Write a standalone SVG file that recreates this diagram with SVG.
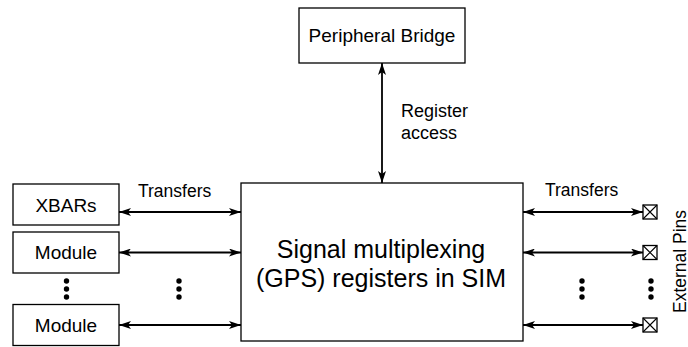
<svg xmlns="http://www.w3.org/2000/svg" width="688" height="347" viewBox="0 0 688 347">
<style>
  .box { fill: #fff; stroke: #000; stroke-width: 1.3; }
  .lbl { font-family: "Liberation Sans", Arial, sans-serif; fill: #000; }
  .node { font-size: 19px; text-anchor: middle; }
  .small { font-size: 17.5px; }
  .big { font-size: 25px; text-anchor: middle; }
  .conn { stroke: #000; stroke-width: 1.8; fill: none; marker-start: url(#arr); marker-end: url(#arr); }
  .pin { fill: #fff; stroke: #000; stroke-width: 1.3; }
</style>
<defs>
  <marker id="arr" viewBox="0 0 12 8" refX="12" refY="4" markerWidth="12" markerHeight="8" markerUnits="userSpaceOnUse" orient="auto-start-reverse">
    <path d="M0,0 L12,4 L0,8 L3,4 z" fill="#000"/>
  </marker>
  <g id="dots">
    <circle cx="0" cy="0" r="2.7" fill="#000"/>
    <circle cx="0" cy="8" r="2.7" fill="#000"/>
    <circle cx="0" cy="16" r="2.7" fill="#000"/>
  </g>
  <g id="pinshape">
    <rect class="pin" x="0" y="0" width="14" height="14"/>
    <path d="M0,0 L14,14 M14,0 L0,14" stroke="#000" stroke-width="1.1"/>
  </g>
</defs>
<rect width="688" height="347" fill="#fff"/>

<g id="peripheral-bridge">
  <rect class="box" x="299" y="8" width="166" height="55"/>
  <text class="lbl node" x="382" y="42">Peripheral Bridge</text>
</g>

<g id="sim">
  <rect class="box" x="241" y="183" width="282" height="158"/>
  <text class="lbl big" x="381" y="258">Signal multiplexing</text>
  <text class="lbl big" x="381" y="287">(GPS) registers in SIM</text>
</g>

<g id="xbars">
  <rect class="box" x="13" y="184" width="106" height="41"/>
  <text class="lbl node" x="66" y="211.5">XBARs</text>
</g>
<g id="module1">
  <rect class="box" x="13" y="232" width="106" height="41"/>
  <text class="lbl node" x="66" y="258.5">Module</text>
</g>
<g id="module2">
  <rect class="box" x="13" y="304.5" width="106" height="41"/>
  <text class="lbl node" x="66" y="332">Module</text>
</g>

<g id="pins">
  <use href="#pinshape" x="643" y="205"/>
  <use href="#pinshape" x="643" y="245.5"/>
  <use href="#pinshape" x="643" y="318"/>
  <text class="lbl small" text-anchor="middle" transform="translate(685.5,261.5) rotate(-90)">External Pins</text>
</g>

<g id="connectors">
  <line class="conn" x1="382" y1="63" x2="382" y2="183"/>
  <line class="conn" x1="119" y1="212" x2="241" y2="212"/>
  <line class="conn" x1="119" y1="252.5" x2="241" y2="252.5"/>
  <line class="conn" x1="119" y1="325" x2="241" y2="325"/>
  <line class="conn" x1="523" y1="212" x2="643" y2="212"/>
  <line class="conn" x1="523" y1="252.5" x2="643" y2="252.5"/>
  <line class="conn" x1="523" y1="325" x2="643" y2="325"/>
</g>

<g id="labels">
  <text class="lbl" font-size="18" x="401" y="117">Register</text>
  <text class="lbl" font-size="18" x="401" y="139">access</text>
  <text class="lbl small" x="138" y="196.5">Transfers</text>
  <text class="lbl small" x="545" y="196">Transfers</text>
</g>

<g id="ellipses">
  <use href="#dots" x="66.5" y="281"/>
  <use href="#dots" x="179" y="281"/>
  <use href="#dots" x="582" y="281"/>
  <use href="#dots" x="651" y="281"/>
</g>
</svg>
